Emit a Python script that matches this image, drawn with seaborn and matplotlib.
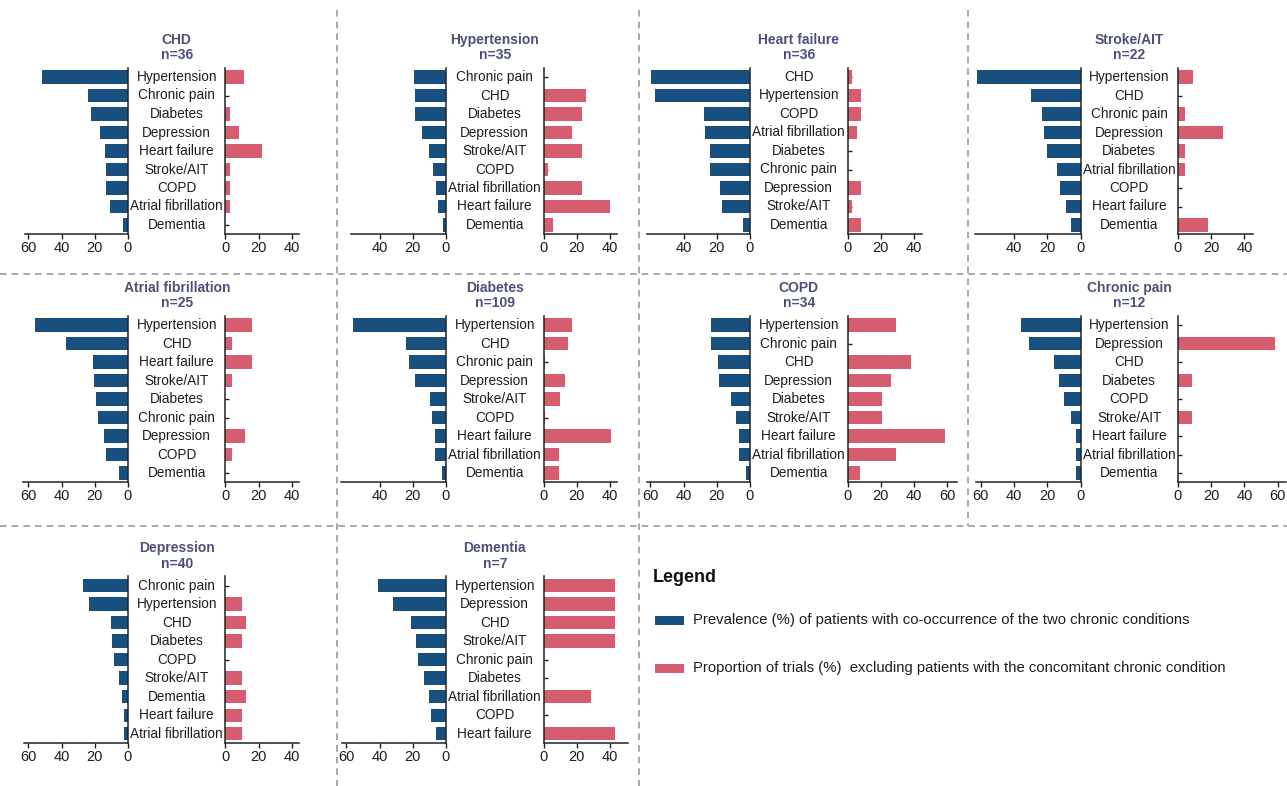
import matplotlib
matplotlib.use("Agg")
import matplotlib.pyplot as plt
import matplotlib.transforms as mtransforms
from matplotlib.lines import Line2D
from matplotlib.patches import Rectangle
import seaborn as sns

sns.set_style("ticks")
plt.rcParams['font.family'] = ['Liberation Sans', 'DejaVu Sans']
plt.rcParams['font.size'] = 9.8

BLUE = '#17507e'
PINK = '#d65c70'
TITLE_COLOR = '#4d5079'
LINE_COLOR = '#9b9b9b'
TEXT_COLOR = '#1e1e1e'

# ---- data: prevalence (%) of co-occurrence and proportion of trials (%) excluding ----
chd_cats = ['Hypertension', 'Chronic pain', 'Diabetes', 'Depression', 'Heart failure',
            'Stroke/AIT', 'COPD', 'Atrial fibrillation', 'Dementia']
chd_prev = [52, 24, 22, 17, 14, 13, 13, 11, 3]
chd_excl = [11.1, 0, 2.8, 8.3, 22.2, 2.8, 2.8, 2.8, 0]

htn_cats = ['Chronic pain', 'CHD', 'Diabetes', 'Depression', 'Stroke/AIT', 'COPD',
            'Atrial fibrillation', 'Heart failure', 'Dementia']
htn_prev = [19.5, 18.5, 18.5, 14.3, 10.1, 8, 5.9, 4.8, 1.7]
htn_excl = [0, 25.7, 22.9, 17.1, 22.9, 2.9, 22.9, 40, 5.7]

hf_cats = ['CHD', 'Hypertension', 'COPD', 'Atrial fibrillation', 'Diabetes', 'Chronic pain',
           'Depression', 'Stroke/AIT', 'Dementia']
hf_prev = [59.5, 57, 28, 27, 24, 24, 17.8, 16.8, 4.5]
hf_excl = [2.8, 8.3, 8.3, 5.6, 0, 0, 8.3, 2.8, 8.3]

stroke_cats = ['Hypertension', 'CHD', 'Chronic pain', 'Depression', 'Diabetes',
               'Atrial fibrillation', 'COPD', 'Heart failure', 'Dementia']
stroke_prev = [62.5, 30, 23, 22, 20, 14, 12.6, 8.9, 5.9]
stroke_excl = [9.1, 0, 4.5, 27.3, 4.5, 4.5, 0, 0, 18.2]

af_cats = ['Hypertension', 'CHD', 'Heart failure', 'Stroke/AIT', 'Diabetes', 'Chronic pain',
           'Depression', 'COPD', 'Dementia']
af_prev = [56, 37.4, 21.3, 20.3, 19.3, 18.3, 14.3, 13.3, 5.2]
af_excl = [16, 4, 16, 4, 0, 0, 12, 4, 0]

diab_cats = ['Hypertension', 'CHD', 'Chronic pain', 'Depression', 'Stroke/AIT', 'COPD',
             'Heart failure', 'Atrial fibrillation', 'Dementia']
diab_prev = [56, 24, 22, 18.8, 9.5, 8.3, 6.4, 6.4, 2.3]
diab_excl = [17.4, 14.7, 0.9, 12.8, 10.1, 0.9, 40.4, 9.2, 9.2]

copd_cats = ['Hypertension', 'Chronic pain', 'CHD', 'Depression', 'Diabetes', 'Stroke/AIT',
             'Heart failure', 'Atrial fibrillation', 'Dementia']
copd_prev = [23.5, 23.5, 19.5, 18.5, 11.5, 8.5, 6.5, 6.5, 2.4]
copd_excl = [29.4, 0, 38.2, 26.5, 20.6, 20.6, 58.8, 29.4, 7.5]

pain_cats = ['Hypertension', 'Depression', 'CHD', 'Diabetes', 'COPD', 'Stroke/AIT',
             'Heart failure', 'Atrial fibrillation', 'Dementia']
pain_prev = [36, 31, 16, 13, 10, 6, 2.8, 2.8, 2.8]
pain_excl = [0, 58.3, 0, 8.3, 0, 8.3, 0, 0, 0]

dep_cats = ['Chronic pain', 'Hypertension', 'CHD', 'Diabetes', 'COPD', 'Stroke/AIT',
            'Dementia', 'Heart failure', 'Atrial fibrillation']
dep_prev = [27.4, 23.4, 10.4, 9.4, 8.4, 5.4, 3.4, 2.4, 2.4]
dep_excl = [0, 10, 12.5, 10, 0, 10, 12.5, 10, 10]

dem_cats = ['Hypertension', 'Depression', 'CHD', 'Stroke/AIT', 'Chronic pain', 'Diabetes',
            'Atrial fibrillation', 'COPD', 'Heart failure']
dem_prev = [41, 32, 21, 18, 17, 13, 10, 9, 6]
dem_excl = [42.9, 42.9, 42.9, 42.9, 0, 0, 28.6, 0, 42.9]

titles = ['CHD', 'Hypertension', 'Heart failure', 'Stroke/AIT', 'Atrial fibrillation',
          'Diabetes', 'COPD', 'Chronic pain', 'Depression', 'Dementia']
n_patients = [36, 35, 36, 22, 25, 109, 34, 12, 40, 7]

panels = [
    (chd_cats, chd_prev, chd_excl),
    (htn_cats, htn_prev, htn_excl),
    (hf_cats, hf_prev, hf_excl),
    (stroke_cats, stroke_prev, stroke_excl),
    (af_cats, af_prev, af_excl),
    (diab_cats, diab_prev, diab_excl),
    (copd_cats, copd_prev, copd_excl),
    (pain_cats, pain_prev, pain_excl),
    (dep_cats, dep_prev, dep_excl),
    (dem_cats, dem_prev, dem_excl),
]

# axis extents / ticks per panel
left_lim = [62, 57, 62, 63.5, 63, 63, 62, 63, 62.5, 62.5]
left_ticks = [[60, 40, 20, 0], [40, 20, 0], [40, 20, 0], [40, 20, 0], [60, 40, 20, 0],
              [40, 20, 0], [60, 40, 20, 0], [60, 40, 20, 0], [60, 40, 20, 0], [60, 40, 20, 0]]
right_lim = [44.5, 44.5, 45, 45, 44.5, 44.5, 66, 65, 44.5, 51]
right_ticks = [[0, 20, 40]] * 6 + [[0, 20, 40, 60]] * 2 + [[0, 20, 40]] * 2
grid_pos = [(0, 0), (1, 0), (2, 0), (3, 0), (0, 1), (1, 1), (2, 1), (3, 1), (0, 2), (1, 2)]

# ---- layout in pixels ----
W, H = 1287, 786
S = 1.66                       # px per percent
col_zero = [128, 446, 750, 1080.5]
GAP = 97.5
row_top = [67.75, 315.75, 576.25]
row_bot = [234.25, 482.25, 743]


def fx(px):
    return px / W


def fy(py):
    return 1 - py / H


fig = plt.figure(figsize=(W / 100, H / 100), dpi=100)


def style_axis(ax, ticks):
    ax.set_xticks(ticks)
    ax.set(xlabel='', ylabel='')
    ax.tick_params(axis='x', direction='out', length=3.5, width=1, labelsize=10.5,
                   pad=1.5, colors=TEXT_COLOR)
    ax.spines['top'].set_visible(False)
    for sp in ax.spines.values():
        sp.set_linewidth(1.1)
        sp.set_color('#222222')
        sp.set_zorder(4)
    for p in ax.patches:
        p.set_zorder(3)
        p.set_linewidth(0)


for k, (cats, prev, excl) in enumerate(panels):
    c, r = grid_pos[k]
    lz = col_zero[c]
    rz = lz + GAP
    top, bot = row_top[r], row_bot[r]
    L, R = left_lim[k], right_lim[k]

    axL = fig.add_axes([fx(lz - L * S), fy(bot), L * S / W, (bot - top) / H])
    sns.barplot(x=prev, y=cats, orient='y', color=BLUE, saturation=1, width=0.72, ax=axL)
    axL.set_xlim(L, 0)
    axL.set_ylim(8.5, -0.5)
    style_axis(axL, left_ticks[k])
    axL.spines['left'].set_visible(False)
    axL.tick_params(axis='y', left=False, right=False, labelleft=False)

    axR = fig.add_axes([fx(rz), fy(bot), R * S / W, (bot - top) / H])
    sns.barplot(x=excl, y=cats, orient='y', color=PINK, saturation=1, width=0.72, ax=axR)
    axR.set_xlim(0, R)
    axR.set_ylim(8.5, -0.5)
    style_axis(axR, right_ticks[k])
    axR.spines['right'].set_visible(False)
    axR.tick_params(axis='y', direction='in', length=3, width=1, labelleft=False,
                    color='#222222')

    # category labels in the gap
    mid = fx((lz + rz) / 2)
    trans = mtransforms.blended_transform_factory(fig.transFigure, axR.transData)
    for i, cat in enumerate(cats):
        fig.text(mid, i, cat, transform=trans, ha='center', va='center',
                 fontsize=9.8, color=TEXT_COLOR)

    fig.text(mid, fy(top - 28), titles[k], ha='center', va='center',
             fontsize=10, fontweight='bold', color=TITLE_COLOR)
    fig.text(mid, fy(top - 12.5), f'n={n_patients[k]}', ha='center', va='center',
             fontsize=10, fontweight='bold', color=TITLE_COLOR)

# dashed separators
dash = dict(color=LINE_COLOR, linestyle=(0, (4, 3)), linewidth=1.2)
for y in [273.5, 525.5]:
    fig.add_artist(Line2D([0, 1], [fy(y), fy(y)], transform=fig.transFigure, **dash))
for x, y0, y1 in [(337, 10, 786), (639, 10, 786), (968, 10, 525.5)]:
    fig.add_artist(Line2D([fx(x), fx(x)], [fy(y0), fy(y1)], transform=fig.transFigure, **dash))

# legend
fig.text(fx(653), fy(577), 'Legend', ha='left', va='center', fontsize=13,
         fontweight='bold', color='#111111')
legend_items = [
    (BLUE, 620, 'Prevalence (%) of patients with co-occurrence of the two chronic conditions'),
    (PINK, 668, 'Proportion of trials (%)  excluding patients with the concomitant chronic condition'),
]
for col, yc, label in legend_items:
    fig.add_artist(Rectangle((fx(655), fy(yc + 4.5)), 28.5 / W, 9 / H,
                             transform=fig.transFigure, facecolor=col, edgecolor='none'))
    fig.text(fx(693), fy(yc), label, ha='left', va='center', fontsize=10.75,
             color=TEXT_COLOR)

fig.savefig('out.png', dpi=100)
